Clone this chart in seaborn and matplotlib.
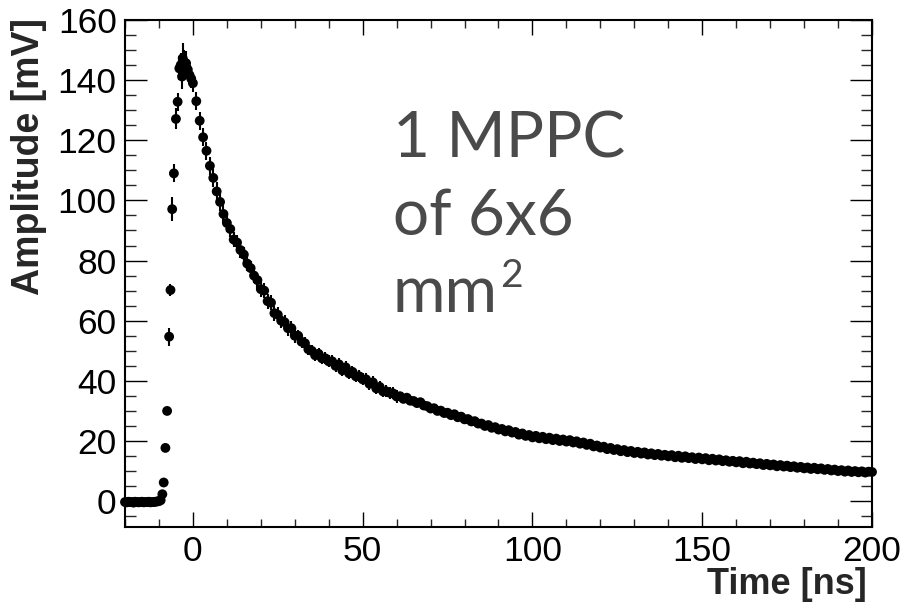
import numpy as np
import pandas as pd
import seaborn as sns
import matplotlib
matplotlib.use("Agg")
from matplotlib import pyplot as plt
from matplotlib.ticker import MultipleLocator

# baseline before the pulse
t_base = [-20.0, -19.5, -19.0, -18.5, -18.0, -17.5, -17.0, -16.5, -16.0, -15.5, -15.0,
          -14.5, -14.0, -13.5, -13.0, -12.5, -12.0, -11.5, -11.0, -10.5, -10.0, -9.5]
a_base = [-0.3, -0.4, -0.2, -0.3, -0.3, -0.5, -0.2, -0.3, -0.4, -0.3, -0.2,
          -0.4, -0.3, -0.3, -0.2, -0.4, -0.3, -0.3, -0.2, -0.1, 0.0, 0.3]
e_base = [0.4] * len(t_base)

# rising edge and peak
t_rise = [-9.0, -8.6, -8.1, -7.6, -7.0, -6.6, -6.1, -5.6, -5.0, -4.5,
          -4.0, -3.6, -3.2, -3.0, -2.5, -2.0, -1.5, -1.0, -0.5]
a_rise = [2.3, 6.2, 17.7, 30.0, 54.7, 70.2, 97.1, 109.0, 127.1, 132.8,
          143.9, 145.0, 141.2, 147.3, 146.0, 145.6, 143.5, 141.7, 140.5]
e_rise = [0.5, 0.6, 1.0, 1.0, 3.0, 2.0, 4.0, 3.0, 3.5, 3.0,
          4.0, 4.0, 4.0, 5.0, 4.0, 4.0, 3.5, 3.5, 3.0]

# decay tail, one sample per ns from 0 to 200
t_decay = list(range(0, 201))
a_decay = [139.0,
           133.0, 126.5, 121.0, 116.5, 111.5, 107.5, 103.0, 99.5, 95.5, 92.5,
           90.5, 87.0, 86.0, 83.5, 82.0, 79.0, 77.5, 75.0, 73.5, 70.5,
           70.0, 66.5, 66.0, 62.5, 62.0, 60.0, 59.5, 57.5, 57.5, 55.0,
           55.0, 53.0, 52.5, 50.5, 50.0, 48.5, 49.0, 47.5, 47.5, 46.5,
           46.5, 45.0, 45.5, 43.5, 44.5, 42.5, 43.0, 41.5, 41.5, 40.5,
           40.5, 39.0, 39.5, 37.5, 38.0, 36.5, 36.5, 36.0, 35.8, 34.8,
           34.9, 34.0, 34.4, 33.4, 33.3, 32.6, 32.9, 31.8, 31.6, 30.8,
           30.9, 30.0, 30.1, 29.3, 29.4, 28.6, 28.9, 27.9, 28.1, 27.2,
           27.3, 26.5, 26.6, 25.8, 25.8, 25.0, 25.3, 24.4, 24.6, 23.8,
           24.0, 23.2, 23.6, 22.8, 23.0, 22.1, 22.5, 21.7, 22.0, 21.2,
           21.7, 20.9, 21.4, 20.6, 21.1, 20.3, 20.8, 20.0, 20.5, 19.8,
           20.3, 19.5, 19.9, 19.1, 19.5, 18.7, 19.1, 18.2, 18.5, 17.8,
           18.1, 17.3, 17.7, 17.0, 17.3, 16.6, 17.0, 16.3, 16.7, 16.0,
           16.4, 15.8, 16.2, 15.5, 15.9, 15.3, 15.7, 15.1, 15.4, 14.9,
           15.3, 14.6, 15.1, 14.4, 14.9, 14.3, 14.6, 14.0, 14.5, 13.9,
           14.3, 13.6, 14.1, 13.5, 13.9, 13.3, 13.6, 13.1, 13.4, 12.9,
           13.3, 12.6, 13.1, 12.5, 12.8, 12.3, 12.6, 12.0, 12.4, 11.9,
           12.2, 11.6, 12.0, 11.5, 11.8, 11.3, 11.6, 11.1, 11.4, 10.9,
           11.2, 10.7, 11.1, 10.6, 10.9, 10.4, 10.7, 10.2, 10.5, 10.0,
           10.3, 9.8, 10.2, 9.7, 10.0, 9.6, 9.9, 9.5, 9.8, 9.7]
e_decay = [3.0] * 11 + [2.5] * 20 + [2.0] * 30 + [1.2] * 140

df = pd.DataFrame({
    "t": t_base + t_rise + t_decay,
    "amp": a_base + a_rise + a_decay,
    "err": e_base + e_rise + e_decay,
})

sns.set_theme(style="ticks")
plt.rcParams['font.family'] = ['Liberation Sans', 'DejaVu Sans']

fig = plt.figure(figsize=(9.04, 6.07), dpi=100)
ax = fig.add_axes([125 / 904, 1 - 527 / 607, 747 / 904, 507 / 607])

ax.errorbar(df["t"], df["amp"], yerr=df["err"], fmt="none", ecolor="black",
            elinewidth=1.5, capsize=0, clip_on=False, zorder=2)
sns.scatterplot(data=df, x="t", y="amp", ax=ax, color="black", s=50,
                edgecolor="none", linewidth=0, legend=False, clip_on=False, zorder=3)

ax.set_xlim(-20, 200)
ax.set_ylim(-8.6, 160)
ax.xaxis.set_major_locator(MultipleLocator(50))
ax.xaxis.set_minor_locator(MultipleLocator(10))
ax.yaxis.set_major_locator(MultipleLocator(20))
ax.yaxis.set_minor_locator(MultipleLocator(5))
ax.tick_params(axis="x", which="major", direction="in", length=11, width=1,
               top=True, bottom=True, labelsize=25.5, pad=6, colors="black")
ax.tick_params(axis="x", which="minor", direction="in", length=5.5, width=1,
               top=True, bottom=True)
ax.tick_params(axis="y", which="major", direction="in", length=16, width=1,
               left=True, right=True, labelsize=25.5, pad=6, colors="black")
ax.tick_params(axis="y", which="minor", direction="in", length=8, width=1,
               left=True, right=True)
for sp in ax.spines.values():
    sp.set_visible(True)
    sp.set_linewidth(1.5)
    sp.set_color("black")

ax.set_xlabel("")
ax.set_ylabel("")
fig.text(867 / 904, 1 - 602 / 607, "Time [ns]", ha="right", va="bottom",
         fontsize=26, fontweight="bold")
fig.text(29 / 904, 1 - 18 / 607, "Amplitude [mV]", ha="center", va="top",
         rotation=90, fontsize=27, fontweight="bold")

lbl_font = dict(fontsize=46, color="#4a4a4a", family=["Lato", "DejaVu Sans"],
                fontweight="normal")
lbl_lines = ["1 MPPC", "of 6x6", "mm"]
lbl_base = [158, 235, 312]
texts = []
for s, yb in zip(lbl_lines, lbl_base):
    texts.append(fig.text(393 / 904, 1 - yb / 607, s, ha="left", va="baseline", **lbl_font))

# superscript 2 placed right after "mm"
fig.canvas.draw()
bb = texts[-1].get_window_extent()
sup_font = dict(lbl_font)
sup_font["fontsize"] = 28
fig.text((bb.x1 + 2) / 904, 1 - 287 / 607, "2", ha="left", va="baseline", **sup_font)

fig.savefig("out.png", dpi=100)
